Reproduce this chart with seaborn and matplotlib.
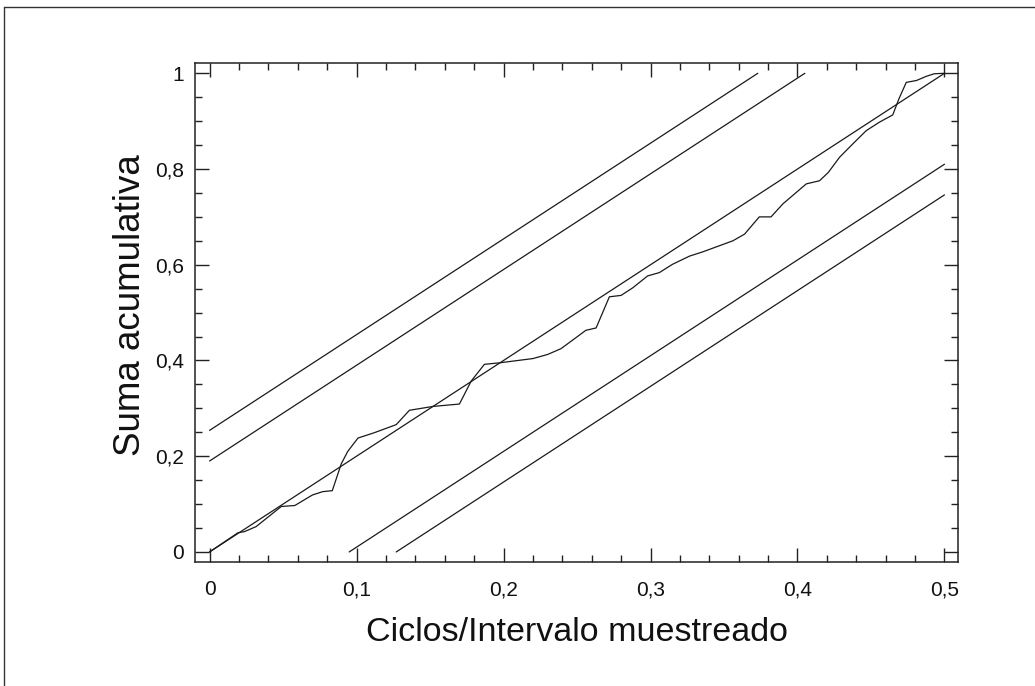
import matplotlib
matplotlib.use("Agg")
import matplotlib.pyplot as plt
from matplotlib.ticker import MultipleLocator, FuncFormatter
from matplotlib.lines import Line2D
import seaborn as sns
import pandas as pd

# ---- data ----
freq = [0, 0.0193, 0.0238, 0.0317, 0.0488, 0.058, 0.070, 0.077, 0.0835, 0.0896,
        0.094, 0.101, 0.112, 0.127, 0.136, 0.152, 0.170, 0.178, 0.187, 0.197,
        0.220, 0.230, 0.239, 0.247, 0.256, 0.263, 0.272, 0.280, 0.288, 0.298,
        0.306, 0.315, 0.3265, 0.3356, 0.356, 0.364, 0.374, 0.382, 0.390, 0.398,
        0.406, 0.415, 0.421, 0.4286, 0.4376, 0.4467, 0.4558, 0.4648, 0.469,
        0.474, 0.481, 0.4875, 0.493, 0.5]
cumsum = [0, 0.040, 0.0425, 0.053, 0.095, 0.097, 0.119, 0.126, 0.128, 0.184,
          0.21, 0.238, 0.249, 0.266, 0.296, 0.304, 0.309, 0.357, 0.392, 0.395,
          0.404, 0.4126, 0.4245, 0.4425, 0.463, 0.468, 0.533, 0.536, 0.552, 0.5766,
          0.5836, 0.601, 0.618, 0.627, 0.650, 0.664, 0.700, 0.700, 0.727, 0.748,
          0.769, 0.7755, 0.793, 0.8245, 0.8524, 0.880, 0.898, 0.913, 0.9466,
          0.981, 0.985, 0.9935, 0.999, 1.0]

# straight reference lines (endpoints)
diag_x = [0, 0.5]
diag_y = [0, 1.0]
upper_outer_x = [0, 0.373]
upper_outer_y = [0.254, 1.0]
upper_inner_x = [0, 0.405]
upper_inner_y = [0.19, 1.0]
lower_inner_x = [0.095, 0.5]
lower_inner_y = [0, 0.81]
lower_outer_x = [0.127, 0.5]
lower_outer_y = [0, 0.746]

x_ticks = [0, 0.1, 0.2, 0.3, 0.4, 0.5]
y_ticks = [0, 0.2, 0.4, 0.6, 0.8, 1.0]
x_label = "Ciclos/Intervalo muestreado"
y_label = "Suma acumulativa"

# ---- plotting ----
sns.set_theme(style="white")
plt.rcParams['font.family'] = ['Liberation Sans', 'DejaVu Sans']

fig = plt.figure(figsize=(10.35, 6.86), dpi=100)
ax = fig.add_axes([195 / 1035, 1 - 562 / 686, (958 - 195) / 1035, (562 - 63) / 686])

lw = 0.9
col = "#1a1a1a"
sns.lineplot(data=pd.DataFrame({"x": freq, "y": cumsum}), x="x", y="y",
             sort=False, estimator=None, ax=ax, color=col, lw=lw)
for xs, ys in [(diag_x, diag_y), (upper_outer_x, upper_outer_y),
               (upper_inner_x, upper_inner_y), (lower_inner_x, lower_inner_y),
               (lower_outer_x, lower_outer_y)]:
    sns.lineplot(x=xs, y=ys, ax=ax, color=col, lw=lw, sort=False, estimator=None)

ax.set_xlim(-0.0099, 0.5092)
ax.set_ylim(-0.021, 1.0215)

ax.xaxis.set_major_locator(MultipleLocator(0.1))
ax.xaxis.set_minor_locator(MultipleLocator(0.02))
ax.yaxis.set_major_locator(MultipleLocator(0.2))
ax.yaxis.set_minor_locator(MultipleLocator(0.05))
ax.set_xticks(x_ticks)
ax.set_yticks(y_ticks)

def fmt(v, pos):
    s = f"{v:.1f}".rstrip("0").rstrip(".")
    if s in ("-0", ""):
        s = "0"
    return s.replace(".", ",")

ax.xaxis.set_major_formatter(FuncFormatter(fmt))
ax.yaxis.set_major_formatter(FuncFormatter(fmt))

ax.tick_params(which="both", direction="in", top=True, right=True,
               bottom=True, left=True, color="#222222", width=1.0)
ax.tick_params(which="major", length=10)
ax.tick_params(which="minor", length=5)
ax.tick_params(axis="x", which="major", pad=13, labelsize=15, labelcolor="#111111")
ax.tick_params(axis="y", which="major", pad=8, labelsize=15, labelcolor="#111111")

for sp in ax.spines.values():
    sp.set_visible(True)
    sp.set_color("#222222")
    sp.set_linewidth(1.1)

ax.set_xlabel(x_label, fontsize=24.5, color="#111111")
ax.set_ylabel(y_label, fontsize=26.5, color="#111111")
ax.xaxis.set_label_coords(0.5, -0.111)
ax.yaxis.set_label_coords(-0.062, 0.515)
ax.grid(False)

# page frame lines (left and top)
fig.add_artist(Line2D([3.5 / 1035, 3.5 / 1035], [0, 1 - 7 / 686],
                      transform=fig.transFigure, color="#333333", lw=1.0))
fig.add_artist(Line2D([3.5 / 1035, 1], [1 - 7 / 686, 1 - 7 / 686],
                      transform=fig.transFigure, color="#333333", lw=1.0))

fig.savefig("out.png", dpi=100)
